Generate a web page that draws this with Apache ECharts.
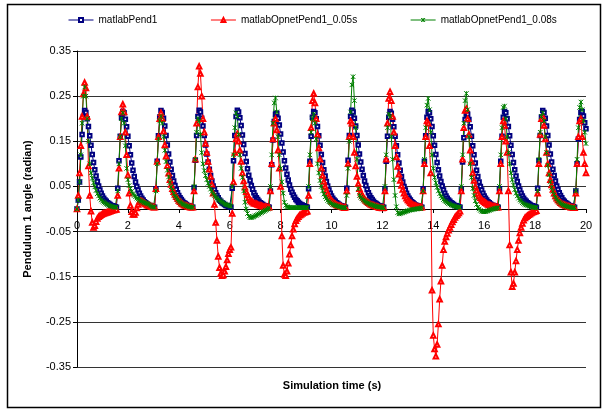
<!DOCTYPE html>
<html>
<head>
<meta charset="utf-8">
<script src="https://cdn.jsdelivr.net/npm/echarts@6/dist/echarts.min.js"></script>
<style>
html,body{margin:0;padding:0;background:#fff;}
#chart{width:603px;height:412px;}
</style>
</head>
<body>
<div id="chart"></div>
<script>
// Sample times: T0 + i*DT seconds (0 .. 20 s)
const T0 = 0;
const DT = 0.05;

const seriesNames = ['matlabPend1', 'matlabOpnetPend1_0.05s', 'matlabOpnetPend1_0.08s'];

// matlabPend1 (radian), one value per 0.05 s
const pend1 = [0,
0.020,0.060,0.115,0.165,0.205,0.218,0.214,0.200,0.183,0.162,0.141,0.121,0.103,0.087,0.073,0.061,0.051,0.042,0.035,0.029,0.024,0.020,0.017,0.014,0.012,0.010,0.008,0.007,0.006,0.005,
0.004,0.046,0.107,0.161,0.202,0.216,0.213,0.199,0.182,0.161,0.140,0.120,0.102,0.086,0.072,0.060,0.050,0.042,0.035,0.029,0.024,0.020,0.016,0.014,0.011,0.009,0.008,0.007,0.006,0.005,
0.004,0.045,0.106,0.162,0.204,0.218,0.214,0.201,0.184,0.163,0.142,0.122,0.104,0.088,0.074,0.062,0.052,0.043,0.036,0.030,0.025,0.021,0.017,0.014,0.012,0.010,0.008,0.007,0.006,0.005,
0.004,0.047,0.108,0.163,0.205,0.219,0.215,0.201,0.184,0.163,0.142,0.122,0.104,0.088,0.074,0.062,0.051,0.043,0.036,0.030,0.025,0.020,0.017,0.014,0.012,0.010,0.008,0.007,0.006,0.005,
0.004,0.046,0.107,0.163,0.205,0.219,0.215,0.202,0.185,0.164,0.143,0.123,0.105,0.089,0.075,0.063,0.052,0.044,0.036,0.030,0.025,0.021,0.017,0.014,0.012,0.010,0.008,0.007,0.006,0.005,
0.004,0.040,0.098,0.153,0.194,0.210,0.212,0.201,0.186,0.166,0.146,0.126,0.107,0.091,0.077,0.064,0.053,0.044,0.037,0.031,0.026,0.021,0.018,0.015,0.012,0.010,0.009,0.007,0.006,0.005,
0.004,0.045,0.106,0.161,0.203,0.216,0.213,0.200,0.183,0.162,0.141,0.121,0.103,0.087,0.073,0.061,0.051,0.042,0.035,0.029,0.024,0.020,0.017,0.014,0.012,0.010,0.008,0.007,0.006,0.005,
0.004,0.046,0.108,0.163,0.205,0.219,0.215,0.201,0.184,0.163,0.142,0.122,0.104,0.088,0.074,0.062,0.052,0.043,0.036,0.030,0.025,0.021,0.017,0.014,0.012,0.010,0.008,0.007,0.006,0.005,
0.004,0.045,0.106,0.161,0.203,0.216,0.212,0.199,0.182,0.161,0.140,0.120,0.102,0.086,0.072,0.060,0.050,0.042,0.035,0.029,0.024,0.020,0.016,0.014,0.011,0.009,0.008,0.007,0.006,0.005,
0.004,0.045,0.106,0.162,0.203,0.216,0.213,0.200,0.183,0.162,0.141,0.121,0.103,0.087,0.073,0.061,0.051,0.042,0.035,0.029,0.024,0.020,0.017,0.014,0.012,0.010,0.008,0.007,0.006,0.005,
0.004,0.044,0.104,0.158,0.198,0.211,0.210,0.198,0.182,0.161,0.140,0.120,0.102,0.086,0.072,0.060,0.050,0.042,0.035,0.029,0.024,0.020,0.016,0.014,0.011,0.009,0.008,0.007,0.006,0.005,
0.004,0.045,0.106,0.161,0.203,0.216,0.213,0.200,0.183,0.162,0.141,0.121,0.103,0.087,0.073,0.061,0.051,0.042,0.035,0.029,0.024,0.020,0.017,0.014,0.012,0.010,0.008,0.007,0.006,0.005,
0.004,0.046,0.107,0.163,0.204,0.218,0.214,0.201,0.184,0.163,0.142,0.122,0.104,0.088,0.074,0.062,0.051,0.043,0.036,0.030,0.025,0.020,0.017,0.014,0.012,0.010,0.008,0.007,0.006,0.005,
0.004,0.040,0.100,0.155,0.198,0.214,0.216,0.206,0.191,0.178];

// matlabOpnetPend1_0.05s
const opnet005 = [0,
0.030,0.080,0.140,0.205,0.255,0.280,0.268,0.205,0.095,0.030,-0.005,-0.030,-0.041,-0.037,-0.028,-0.021,-0.017,-0.015,-0.013,-0.011,-0.010,-0.009,-0.008,-0.007,-0.006,-0.005,-0.004,-0.003,-0.002,-0.001,
-0.001,0.030,0.090,0.160,0.215,0.232,0.215,0.170,0.120,0.075,0.035,0.008,-0.006,-0.012,-0.012,-0.008,0.002,0.010,0.016,0.018,0.017,0.015,0.013,0.011,0.009,0.008,0.007,0.006,0.005,0.004,
0.004,0.045,0.105,0.160,0.200,0.213,0.200,0.172,0.142,0.117,0.096,0.079,0.065,0.054,0.045,0.038,0.032,0.027,0.023,0.019,0.016,0.013,0.011,0.009,0.008,0.007,0.006,0.005,0.004,0.004,
0.004,0.040,0.110,0.190,0.270,0.316,0.300,0.250,0.200,0.170,0.145,0.125,0.105,0.088,0.072,0.055,0.035,0.010,-0.030,-0.070,-0.105,-0.130,-0.143,-0.148,-0.146,-0.138,-0.128,-0.113,-0.099,-0.090,
-0.085,-0.010,0.060,0.125,0.155,0.167,0.150,0.130,0.105,0.080,0.062,0.048,0.038,0.031,0.025,0.020,0.017,0.015,0.013,0.012,0.011,0.010,0.009,0.008,0.007,0.006,0.005,0.005,0.004,0.004,
0.004,0.040,0.100,0.155,0.190,0.200,0.175,0.130,0.090,0.050,-0.060,-0.125,-0.145,-0.148,-0.138,-0.120,-0.100,-0.080,-0.060,-0.045,-0.033,-0.026,-0.021,-0.017,-0.014,-0.012,-0.010,-0.008,-0.007,-0.006,
-0.005,0.030,0.100,0.180,0.240,0.256,0.235,0.200,0.165,0.135,0.110,0.090,0.074,0.061,0.050,0.041,0.034,0.028,0.023,0.019,0.016,0.013,0.011,0.009,0.008,0.007,0.006,0.005,0.004,0.003,
0.004,0.040,0.100,0.160,0.195,0.190,0.160,0.125,0.095,0.072,0.056,0.045,0.037,0.031,0.026,0.022,0.019,0.016,0.014,0.012,0.010,0.009,0.008,0.007,0.006,0.005,0.004,0.003,0.003,0.002,
0.003,0.040,0.110,0.190,0.245,0.260,0.240,0.205,0.170,0.140,0.115,0.094,0.077,0.063,0.052,0.043,0.035,0.029,0.024,0.020,0.017,0.014,0.012,0.010,0.008,0.007,0.006,0.005,0.004,0.004,
0.004,0.040,0.100,0.160,0.195,0.190,0.140,0.080,-0.180,-0.280,-0.310,-0.326,-0.300,-0.255,-0.200,-0.160,-0.125,-0.090,-0.072,-0.062,-0.054,-0.047,-0.041,-0.035,-0.029,-0.024,-0.019,-0.015,-0.012,-0.009,
-0.005,0.040,0.110,0.180,0.218,0.222,0.200,0.165,0.130,0.105,0.080,0.063,0.050,0.041,0.034,0.029,0.025,0.021,0.018,0.016,0.014,0.012,0.010,0.009,0.008,0.007,0.006,0.005,0.005,0.004,
0.004,0.040,0.100,0.160,0.195,0.185,0.150,0.125,0.040,-0.080,-0.140,-0.172,-0.165,-0.140,-0.115,-0.090,-0.070,-0.053,-0.041,-0.032,-0.025,-0.020,-0.017,-0.015,-0.013,-0.011,-0.009,-0.007,-0.006,-0.005,
-0.004,0.035,0.100,0.165,0.200,0.205,0.185,0.155,0.125,0.100,0.080,0.065,0.053,0.043,0.035,0.029,0.024,0.020,0.017,0.014,0.012,0.010,0.009,0.008,0.007,0.006,0.005,0.004,0.004,0.003,
0.003,0.035,0.100,0.160,0.195,0.200,0.160,0.125,0.100,0.080];

// matlabOpnetPend1_0.08s
const opnet008 = [0,
0.020,0.060,0.120,0.190,0.250,0.270,0.250,0.200,0.150,0.100,0.080,0.068,0.058,0.049,0.041,0.034,0.029,0.024,0.020,0.017,0.015,0.013,0.011,0.010,0.008,0.007,0.006,0.005,0.004,0.004,
0.004,0.040,0.100,0.160,0.200,0.213,0.190,0.140,0.090,0.065,0.052,0.045,0.039,0.034,0.030,0.027,0.024,0.022,0.020,0.018,0.017,0.015,0.014,0.013,0.012,0.011,0.009,0.007,0.005,0.004,
0.004,0.040,0.100,0.155,0.195,0.205,0.190,0.160,0.130,0.105,0.086,0.071,0.059,0.049,0.041,0.034,0.029,0.025,0.021,0.018,0.015,0.013,0.011,0.010,0.008,0.007,0.006,0.005,0.004,0.004,
0.004,0.050,0.110,0.170,0.200,0.195,0.165,0.125,0.100,0.085,0.074,0.065,0.057,0.050,0.044,0.039,0.034,0.030,0.027,0.024,0.021,0.019,0.017,0.015,0.013,0.011,0.010,0.009,0.008,0.007,
0.006,0.050,0.120,0.180,0.213,0.205,0.165,0.120,0.090,0.070,0.040,0.015,0.000,-0.010,-0.016,-0.019,-0.019,-0.018,-0.017,-0.015,-0.014,-0.012,-0.011,-0.009,-0.008,-0.006,-0.005,-0.003,-0.002,0.000,
0.002,0.050,0.120,0.190,0.235,0.246,0.215,0.160,0.120,0.090,0.060,0.035,0.015,0.008,0.005,0.004,0.004,0.003,0.003,0.003,0.003,0.003,0.003,0.003,0.003,0.003,0.003,0.003,0.003,0.003,
0.003,0.050,0.120,0.170,0.200,0.210,0.190,0.155,0.100,0.080,0.063,0.050,0.040,0.033,0.027,0.023,0.019,0.016,0.014,0.012,0.010,0.009,0.008,0.007,0.006,0.005,0.004,0.004,0.003,0.003,
0.003,0.030,0.090,0.150,0.215,0.275,0.293,0.240,0.180,0.110,0.045,0.030,0.026,0.023,0.020,0.018,0.016,0.014,0.013,0.011,0.010,0.009,0.008,0.007,0.006,0.005,0.005,0.004,0.004,0.003,
0.003,0.050,0.120,0.180,0.210,0.205,0.160,0.110,0.065,0.030,0.005,-0.008,-0.011,-0.010,-0.009,-0.008,-0.007,-0.006,-0.005,-0.004,-0.003,-0.002,-0.002,-0.001,-0.001,0.000,0.000,0.001,0.001,0.001,
0.003,0.040,0.110,0.180,0.230,0.245,0.220,0.170,0.120,0.090,0.070,0.058,0.048,0.040,0.034,0.029,0.025,0.021,0.018,0.016,0.014,0.012,0.011,0.009,0.008,0.007,0.006,0.005,0.004,0.004,
0.004,0.050,0.120,0.190,0.240,0.256,0.220,0.160,0.100,0.070,0.045,0.030,0.018,0.010,0.004,0.000,-0.003,-0.005,-0.006,-0.006,-0.006,-0.005,-0.004,-0.003,-0.002,-0.001,0.000,0.001,0.001,0.002,
0.003,0.050,0.120,0.180,0.225,0.228,0.200,0.160,0.125,0.100,0.080,0.065,0.053,0.043,0.035,0.029,0.024,0.020,0.017,0.014,0.012,0.010,0.009,0.008,0.007,0.006,0.005,0.004,0.004,0.003,
0.003,0.040,0.110,0.170,0.205,0.213,0.195,0.160,0.125,0.097,0.076,0.060,0.048,0.039,0.032,0.026,0.022,0.018,0.015,0.013,0.011,0.009,0.008,0.007,0.006,0.005,0.004,0.004,0.003,0.003,
0.003,0.040,0.110,0.180,0.225,0.237,0.220,0.195,0.170,0.145];

const yTickLabels = ['-0.35','-0.25','-0.15','-0.05','0.05','0.15','0.25','0.35'];

function pairs(vals) {
  return vals.map((v, i) => [T0 + i * DT, v]);
}

const FONT = '"Liberation Sans", Arial, sans-serif';
const GRID_TOP = 51, GRID_BOTTOM = 45, H = 412;
const plotH = H - GRID_TOP - GRID_BOTTOM;
const chart = echarts.init(document.getElementById('chart'), null, {renderer: 'canvas'});

const starPath = 'path://M0,0L10,10M10,0L0,10M5,0L5,10';

chart.setOption({
  animation: false,
  backgroundColor: '#fff',
  textStyle: {fontFamily: FONT},
  graphic: [
    {type: 'rect', shape: {x: 7.5, y: 4.5, width: 593, height: 403},
     style: {fill: 'none', stroke: '#000', lineWidth: 1.5}, silent: true, z: -1},
    {type: 'text', x: 332, y: 386,
     style: {text: 'Simulation time (s)', fontFamily: FONT, fontSize: 11, fontWeight: 'bold',
             fill: '#000', textAlign: 'center', textVerticalAlign: 'middle'}}
  ],
  legend: {
    data: seriesNames,
    left: 68, top: 15, padding: 0,
    itemWidth: 25, itemHeight: 5, itemGap: 53,
    lineStyle: {width: 1},
    itemStyle: {borderWidth: 1},
    textStyle: {fontFamily: FONT, fontSize: 10, color: '#000'}
  },
  grid: {left: 77, right: 17, top: GRID_TOP, bottom: GRID_BOTTOM, containLabel: false},
  xAxis: {
    type: 'value', min: 0, max: 20, interval: 2,
    position: 'bottom', offset: -plotH / 2,
    axisLine: {onZero: false, lineStyle: {color: '#000', width: 1}},
    axisTick: {show: true, inside: false, length: 4, lineStyle: {color: '#000'}},
    axisLabel: {color: '#000', fontFamily: FONT, fontSize: 11, margin: 11},
    splitLine: {show: false}
  },
  yAxis: {
    type: 'value', min: -0.35, max: 0.35, interval: 0.1,
    name: 'Pendulum 1 angle (radian)', nameLocation: 'middle', nameGap: 44, nameRotate: 90,
    nameTextStyle: {fontFamily: FONT, fontSize: 11, fontWeight: 'bold', color: '#000'},
    axisLine: {show: true, onZero: false, lineStyle: {color: '#000', width: 1}},
    axisTick: {show: true, inside: false, length: 4, lineStyle: {color: '#000'}},
    axisLabel: {color: '#000', fontFamily: FONT, fontSize: 11, margin: 6,
      formatter: function (v) {
        const s = (Math.round(v * 100) / 100).toFixed(2);
        return yTickLabels.indexOf(s) >= 0 ? s : '';
      }},
    splitLine: {show: true, lineStyle: {color: '#333', width: 1}}
  },
  series: [
    {name: seriesNames[0], type: 'line', data: pairs(pend1),
     symbol: 'emptyRect', symbolSize: 3.5, showAllSymbol: true,
     lineStyle: {color: '#000080', width: 1},
     itemStyle: {color: '#000080', borderColor: '#000080', borderWidth: 1}},
    {name: seriesNames[1], type: 'line', data: pairs(opnet005),
     symbol: 'emptyTriangle', symbolSize: 4.5, showAllSymbol: true,
     lineStyle: {color: '#FF0000', width: 1},
     itemStyle: {color: '#FF0000', borderColor: '#FF0000', borderWidth: 1}},
    {name: seriesNames[2], type: 'line', data: pairs(opnet008),
     symbol: starPath, symbolSize: 4.5, showAllSymbol: true,
     lineStyle: {color: '#008000', width: 1},
     itemStyle: {color: '#008000', borderColor: '#008000', borderWidth: 1}}
  ]
});
</script>
</body>
</html>
